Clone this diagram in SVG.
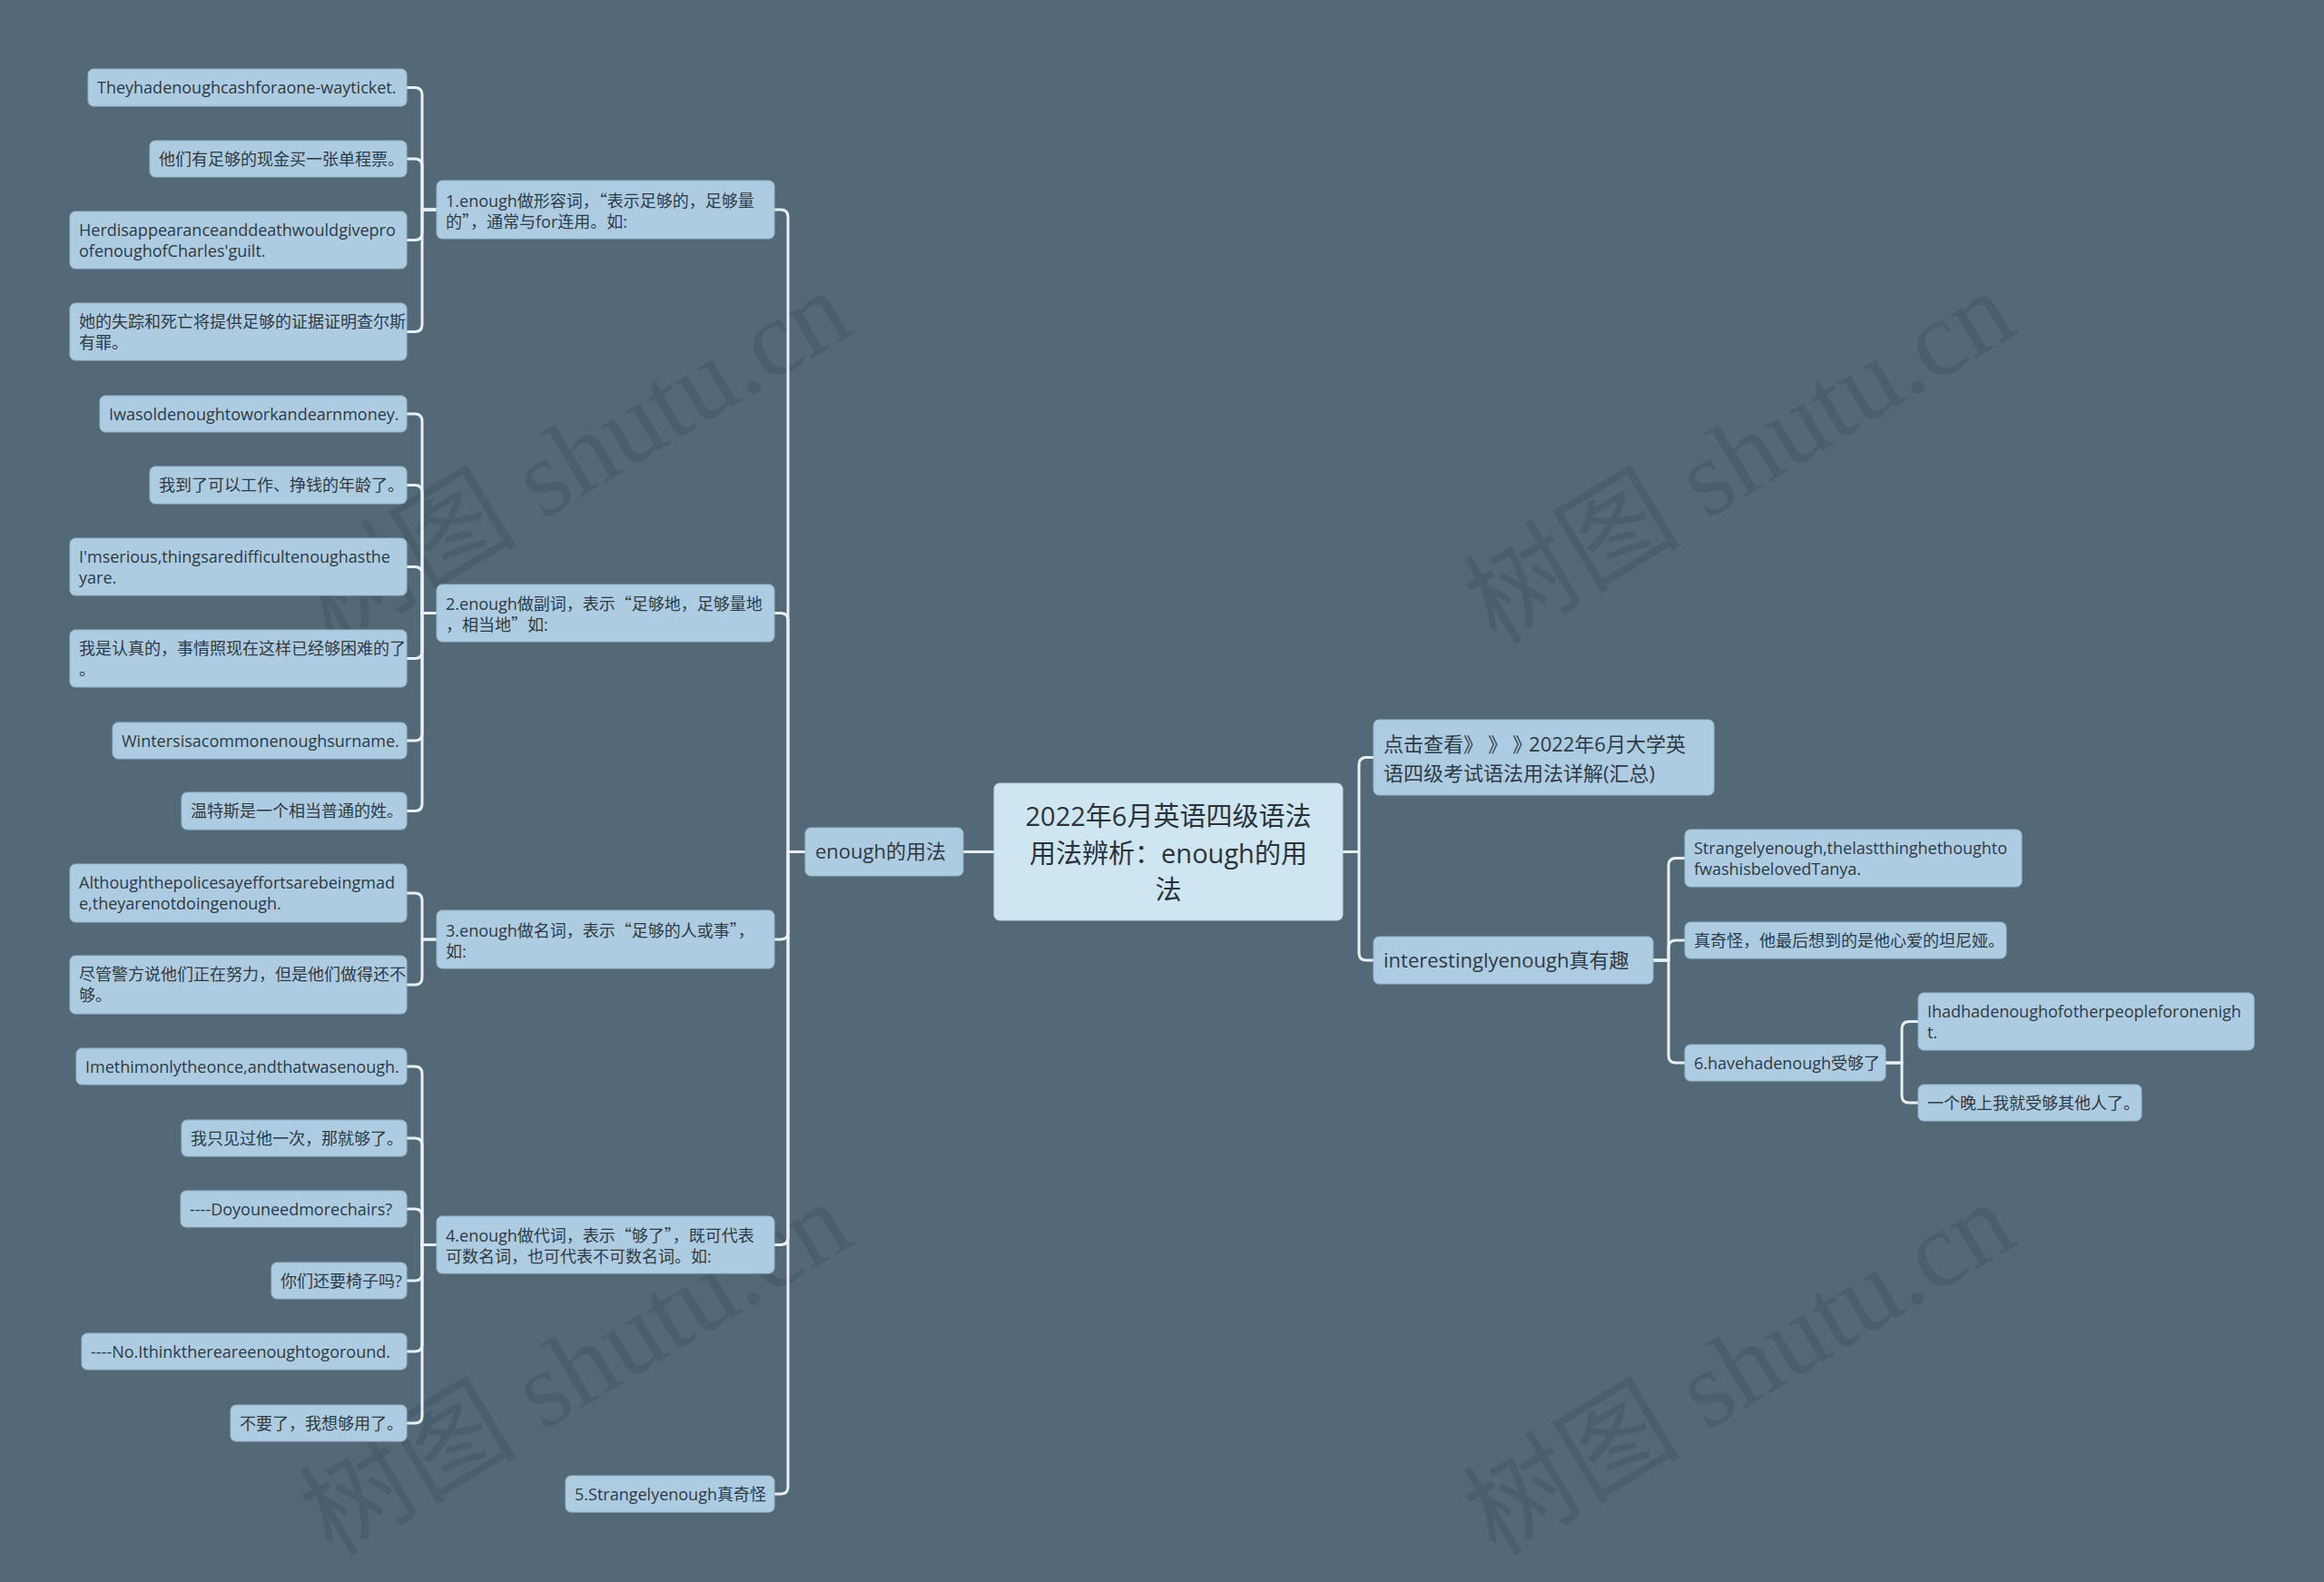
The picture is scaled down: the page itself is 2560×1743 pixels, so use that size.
<svg xmlns="http://www.w3.org/2000/svg" width="2560" height="1743" viewBox="0 0 2560 1743">
<style>
.bg{fill:#536978}
.wm{font-family:"Liberation Serif","Noto Sans CJK SC",serif;font-size:120px;fill:#4a5f6e}
.n{fill:#adcce2;stroke:#97b8d0;stroke-width:1}
.root{fill:#cee5f2;stroke:#b5d2e4;stroke-width:1}
.s{font-family:"Open Sans","Noto Sans CJK SC",sans-serif;font-size:18px;fill:#2e3a44}
.m{font-family:"Open Sans","Noto Sans CJK SC",sans-serif;font-size:22px;fill:#2e3a44}
.l{font-family:"Open Sans","Noto Sans CJK SC",sans-serif;font-size:29px;fill:#2a333b;text-anchor:middle}
.q{font-family:"Noto Sans CJK SC",sans-serif}
.c{fill:none;stroke:#e8f0f5;stroke-width:3;stroke-linecap:round;stroke-linejoin:round}
</style>
<rect class="bg" x="0" y="0" width="2560" height="1743"/>
<g id="watermarks">
<text class="wm" transform="translate(366,712) rotate(-31)">树图 shutu.cn</text>
<text class="wm" transform="translate(1648,712) rotate(-31)">树图 shutu.cn</text>
<text class="wm" transform="translate(366,1716) rotate(-31)">树图 shutu.cn</text>
<text class="wm" transform="translate(1648,1716) rotate(-31)">树图 shutu.cn</text>
</g>
<g id="connectors" class="c">
<path d="M1095 938.5 H1061"/>
<path d="M887 938.5 H868 V239 Q868 231 860 231 H853"/>
<path d="M887 938.5 H868 V683.5 Q868 675.5 860 675.5 H853"/>
<path d="M887 938.5 H868 V1027 Q868 1035 860 1035 H853"/>
<path d="M887 938.5 H868 V1363.5 Q868 1371.5 860 1371.5 H853"/>
<path d="M887 938.5 H868 V1638 Q868 1646 860 1646 H853"/>
<path d="M481 231 H465 V104.5 Q465 96.5 457 96.5 H448"/>
<path d="M481 231 H465 V183 Q465 175 457 175 H448"/>
<path d="M481 231 H465 V256.5 Q465 264.5 457 264.5 H448"/>
<path d="M481 231 H465 V357.5 Q465 365.5 457 365.5 H448"/>
<path d="M481 675.5 H465 V464 Q465 456 457 456 H448"/>
<path d="M481 675.5 H465 V542.5 Q465 534.5 457 534.5 H448"/>
<path d="M481 675.5 H465 V632.5 Q465 624.5 457 624.5 H448"/>
<path d="M481 675.5 H465 V717.5 Q465 725.5 457 725.5 H448"/>
<path d="M481 675.5 H465 V808 Q465 816 457 816 H448"/>
<path d="M481 675.5 H465 V885.5 Q465 893.5 457 893.5 H448"/>
<path d="M481 1035 H465 V992 Q465 984 457 984 H448"/>
<path d="M481 1035 H465 V1077 Q465 1085 457 1085 H448"/>
<path d="M481 1371.5 H465 V1183 Q465 1175 457 1175 H448"/>
<path d="M481 1371.5 H465 V1262 Q465 1254 457 1254 H448"/>
<path d="M481 1371.5 H465 V1340 Q465 1332 457 1332 H448"/>
<path d="M481 1371.5 H465 V1403 Q465 1411 457 1411 H448"/>
<path d="M481 1371.5 H465 V1481 Q465 1489 457 1489 H448"/>
<path d="M481 1371.5 H465 V1560 Q465 1568 457 1568 H448"/>
<path d="M1479 938.5 H1497 V842.5 Q1497 834.5 1505 834.5 H1513"/>
<path d="M1479 938.5 H1497 V1050 Q1497 1058 1505 1058 H1513"/>
<path d="M1821 1058 H1838 V953.5 Q1838 945.5 1846 945.5 H1856"/>
<path d="M1821 1058 H1838 V1044 Q1838 1036 1846 1036 H1856"/>
<path d="M1821 1058 H1838 V1163 Q1838 1171 1846 1171 H1856"/>
<path d="M2077 1171 H2095 V1133.5 Q2095 1125.5 2103 1125.5 H2113"/>
<path d="M2077 1171 H2095 V1207 Q2095 1215 2103 1215 H2113"/>
</g>
<g id="root"><rect class="root" x="1095" y="863" width="384" height="151" rx="6"/>
<text class="l"><tspan x="1287" y="910">2022年6月英语四级语法</tspan><tspan x="1287" y="951">用法辨析：enough的用</tspan><tspan x="1287" y="991">法</tspan></text></g>
<g id="n-usage"><rect class="n" x="887" y="912" width="174" height="53" rx="6"/><text class="m" x="898" y="946">enough的用法</text></g>
<g id="n-1"><rect class="n" x="481" y="199" width="372" height="64" rx="6"/><text class="s"><tspan x="491" y="228">1.enough做形容词，<tspan class="q">“</tspan>表示足够的，足够量</tspan><tspan x="491" y="251">的<tspan class="q">”</tspan>，通常与for连用。如:</tspan></text></g>
<g id="n-1a"><rect class="n" x="97" y="76" width="351" height="41" rx="6"/><text class="s" x="107" y="103">Theyhadenoughcashforaone-wayticket.</text></g>
<g id="n-1b"><rect class="n" x="165" y="155" width="283" height="40" rx="6"/><text class="s" x="175" y="182">他们有足够的现金买一张单程票。</text></g>
<g id="n-1c"><rect class="n" x="77" y="233" width="371" height="63" rx="6"/><text class="s"><tspan x="87" y="260">Herdisappearanceanddeathwouldgivepro</tspan><tspan x="87" y="283">ofenoughofCharles'guilt.</tspan></text></g>
<g id="n-1d"><rect class="n" x="77" y="334" width="371" height="63" rx="6"/><text class="s"><tspan x="87" y="361">她的失踪和死亡将提供足够的证据证明查尔斯</tspan><tspan x="87" y="384">有罪。</tspan></text></g>
<g id="n-2"><rect class="n" x="481" y="644" width="372" height="63" rx="6"/><text class="s"><tspan x="491" y="672">2.enough做副词，表示<tspan class="q">“</tspan>足够地，足够量地</tspan><tspan x="491" y="695">，相当地<tspan class="q">”</tspan>如:</tspan></text></g>
<g id="n-2a"><rect class="n" x="110" y="436" width="338" height="40" rx="6"/><text class="s" x="120" y="463">Iwasoldenoughtoworkandearnmoney.</text></g>
<g id="n-2b"><rect class="n" x="165" y="514" width="283" height="41" rx="6"/><text class="s" x="175" y="541">我到了可以工作、挣钱的年龄了。</text></g>
<g id="n-2c"><rect class="n" x="77" y="593" width="371" height="63" rx="6"/><text class="s"><tspan x="87" y="620">I'mserious,thingsaredifficultenoughasthe</tspan><tspan x="87" y="643">yare.</tspan></text></g>
<g id="n-2d"><rect class="n" x="77" y="694" width="371" height="63" rx="6"/><text class="s"><tspan x="87" y="721">我是认真的，事情照现在这样已经够困难的了</tspan><tspan x="87" y="744">。</tspan></text></g>
<g id="n-2e"><rect class="n" x="124" y="796" width="324" height="40" rx="6"/><text class="s" x="134" y="823">Wintersisacommonenoughsurname.</text></g>
<g id="n-2f"><rect class="n" x="200" y="873" width="248" height="41" rx="6"/><text class="s" x="210" y="900">温特斯是一个相当普通的姓。</text></g>
<g id="n-3"><rect class="n" x="481" y="1003" width="372" height="64" rx="6"/><text class="s"><tspan x="491" y="1032">3.enough做名词，表示<tspan class="q">“</tspan>足够的人或事<tspan class="q">”</tspan>，</tspan><tspan x="491" y="1055">如:</tspan></text></g>
<g id="n-3a"><rect class="n" x="77" y="952" width="371" height="64" rx="6"/><text class="s"><tspan x="87" y="979">Althoughthepolicesayeffortsarebeingmad</tspan><tspan x="87" y="1002">e,theyarenotdoingenough.</tspan></text></g>
<g id="n-3b"><rect class="n" x="77" y="1053" width="371" height="64" rx="6"/><text class="s"><tspan x="87" y="1080">尽管警方说他们正在努力，但是他们做得还不</tspan><tspan x="87" y="1103">够。</tspan></text></g>
<g id="n-4"><rect class="n" x="481" y="1340" width="372" height="63" rx="6"/><text class="s"><tspan x="491" y="1368">4.enough做代词，表示<tspan class="q">“</tspan>够了<tspan class="q">”</tspan>，既可代表</tspan><tspan x="491" y="1391">可数名词，也可代表不可数名词。如:</tspan></text></g>
<g id="n-4a"><rect class="n" x="84" y="1155" width="364" height="40" rx="6"/><text class="s" x="94" y="1182">Imethimonlytheonce,andthatwasenough.</text></g>
<g id="n-4b"><rect class="n" x="200" y="1234" width="248" height="40" rx="6"/><text class="s" x="210" y="1261">我只见过他一次，那就够了。</text></g>
<g id="n-4c"><rect class="n" x="199" y="1312" width="249" height="40" rx="6"/><text class="s" x="209" y="1339">----Doyouneedmorechairs?</text></g>
<g id="n-4d"><rect class="n" x="299" y="1391" width="149" height="40" rx="6"/><text class="s" x="309" y="1418">你们还要椅子吗?</text></g>
<g id="n-4e"><rect class="n" x="90" y="1469" width="358" height="40" rx="6"/><text class="s" x="100" y="1496">----No.Ithinkthereareenoughtogoround.</text></g>
<g id="n-4f"><rect class="n" x="254" y="1548" width="194" height="40" rx="6"/><text class="s" x="264" y="1575">不要了，我想够用了。</text></g>
<g id="n-5"><rect class="n" x="623" y="1626" width="230" height="40" rx="6"/><text class="s" x="633" y="1653">5.Strangelyenough真奇怪</text></g>
<g id="n-link"><rect class="n" x="1513" y="793" width="375" height="83" rx="6"/><text class="m"><tspan x="1524" y="828">点击查看<tspan letter-spacing="16">》》</tspan>》<tspan dx="-4">2022年6月大学英</tspan></tspan><tspan x="1524" y="860">语四级考试语法用法详解(汇总)</tspan></text></g>
<g id="n-int"><rect class="n" x="1513" y="1032" width="308" height="52" rx="6"/><text class="m" x="1524" y="1066">interestinglyenough真有趣</text></g>
<g id="n-int-a"><rect class="n" x="1856" y="914" width="371" height="63" rx="6"/><text class="s"><tspan x="1866" y="941">Strangelyenough,thelastthinghethoughto</tspan><tspan x="1866" y="964">fwashisbelovedTanya.</tspan></text></g>
<g id="n-int-b"><rect class="n" x="1856" y="1016" width="354" height="40" rx="6"/><text class="s" x="1866" y="1043">真奇怪，他最后想到的是他心爱的坦尼娅。</text></g>
<g id="n-6"><rect class="n" x="1856" y="1151" width="221" height="40" rx="6"/><text class="s" x="1866" y="1178">6.havehadenough受够了</text></g>
<g id="n-6a"><rect class="n" x="2113" y="1094" width="370" height="63" rx="6"/><text class="s"><tspan x="2123" y="1121">Ihadhadenoughofotherpeopleforonenigh</tspan><tspan x="2123" y="1144">t.</tspan></text></g>
<g id="n-6b"><rect class="n" x="2113" y="1195" width="246" height="40" rx="6"/><text class="s" x="2123" y="1222">一个晚上我就受够其他人了。</text></g>
</svg>
